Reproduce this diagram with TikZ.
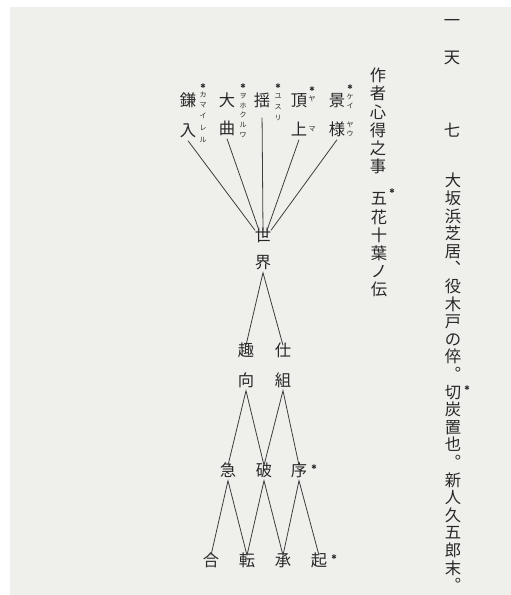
\documentclass[tikz,border=0pt]{standalone}
\usepackage{fontspec}
\newfontfamily\jp{Noto Sans CJK JP}
\newfontfamily\symfont{DejaVu Sans}
\usetikzlibrary{calc}
\definecolor{paper}{RGB}{239,239,236}
\definecolor{ink}{RGB}{40,40,40}
\tikzset{
  kanji/.style={font=\jp\fontsize{16.3}{16.3}\selectfont, text=ink, inner sep=0pt,
    text height=0.88em, text depth=0.12em, anchor=center},
  dk/.style={kanji, inner sep=2.5pt},
  ruby/.style={font=\jp\fontsize{7}{7}\selectfont, text=ink, inner sep=0pt,
    text height=0.88em, text depth=0.12em, anchor=center},
  ast/.style={font=\symfont\fontsize{6.5}{6.5}\selectfont, text=ink, inner sep=0pt, anchor=center},
  link/.style={draw=ink!90, line width=0.8pt}
}
\begin{document}
\begin{tikzpicture}[x=1pt,y=-1pt]
\fill[white] (0,0) rectangle (511,595);
\fill[paper] (10,7) rectangle (511,595);
\useasboundingbox (0,0) rectangle (511,595);

% right column
\node[kanji] (h1) at (452,23) {一};
\node[kanji] (h2) at (452,60) {天};
\node[kanji] (h3) at (452,133) {七};
\foreach \c [count=\i from 0] in {大,坂,浜,芝,居,︑,役,木,戸,の,倅,︒,切,炭,置,也,︒,新,人,久,五,郎,末,︒}
  \node[kanji, name=m\i] at (453,{183+\i*17.6}) {\c};
\node[ast] (a1) at (467,388) {✱};

% middle column
\foreach \c [count=\i from 0] in {作,者,心,得,之,事}
  \node[kanji, name=s\i] at (378,{78+\i*18.1}) {\c};
\foreach \c [count=\i from 0] in {五,花,十,葉,ノ,伝}
  \node[kanji, name=g\i] at (379,{201+\i*18.2}) {\c};
\node[ast] (a2) at (392,191) {✱};

% top row of diagram
\node[dk] (kama) at (188,103) {鎌};
\node[dk] (ire) at (188,133) {入};
\node[dk] (oo) at (227,103) {大};
\node[dk] (kyoku) at (227,131) {曲};
\node[dk] (yuri) at (262,103) {揺};
\node[dk] (cho) at (299,103) {頂};
\node[dk] (ue) at (299,132) {上};
\node[dk] (kei) at (337,103) {景};
\node[dk] (sama) at (337,132) {様};

% ruby
\node[ast] (ra1) at (203,86) {✱};
\foreach \c/\y [count=\i] in {カ/94,マ/104,イ/115,レ/127,ル/139}
  \node[ruby, name=rk\i] at (203,\y) {\c};
\node[ast] (ra2) at (243,86) {✱};
\foreach \c/\y [count=\i] in {ヲ/95,ホ/105,ク/114,ル/124,ワ/134}
  \node[ruby, name=ro\i] at (243,\y) {\c};
\node[ast] (ra3) at (278,86) {✱};
\foreach \c/\y [count=\i] in {ユ/95,ス/106,リ/117}
  \node[ruby, name=ry\i] at (278,\y) {\c};
\node[ast] (ra4) at (312,89) {✱};
\node[ruby] (rc1) at (312,98) {ヤ};
\node[ruby] (rc2) at (312,128) {マ};
\node[ast] (ra5) at (350,87) {✱};
\foreach \c/\y [count=\i] in {ケ/96,イ/105,ヤ/124,ウ/133}
  \node[ruby, name=rs\i] at (350,\y) {\c};

% world
\node[dk] (se) at (263,238) {世};
\node[dk] (kai) at (263,265) {界};
\node[dk] (shu) at (246,353) {趣};
\node[dk] (kou) at (246,383) {向};
\node[dk] (shi) at (283,353) {仕};
\node[dk] (kumi) at (283,383) {組};
\node[dk] (kyu) at (228,473) {急};
\node[dk] (ha) at (264,473) {破};
\node[dk] (jo) at (299,473) {序};
\node[ast] (a3) at (314,467) {✱};
\node[dk] (go) at (211,563) {合};
\node[dk] (ten) at (247,563) {転};
\node[dk] (sho) at (283,563) {承};
\node[dk] (ki) at (319,563) {起};
\node[ast] (a4) at (334,557) {✱};

% connectors
\draw[link] (ire.south) -- ($(se.north)+(-8,0)$);
\draw[link] (kyoku.south) -- ($(se.north)+(-4,0)$);
\draw[link, shorten <=7pt] (yuri.south) -- (se.north);
\draw[link] (ue.south) -- ($(se.north)+(4,0)$);
\draw[link] (sama.south) -- ($(se.north)+(8,0)$);
\draw[link] (shu.north) -- (kai.south) -- (shi.north);
\draw[link] (kyu.north) -- (kou.south) -- (ha.north);
\draw[link] (ha.north) -- (kumi.south) -- (jo.north);
\draw[link] (go.north) -- (kyu.south) -- (ten.north);
\draw[link] (ten.north) -- (ha.south) -- (sho.north);
\draw[link] (sho.north) -- (jo.south) -- (ki.north);
\end{tikzpicture}
\end{document}
